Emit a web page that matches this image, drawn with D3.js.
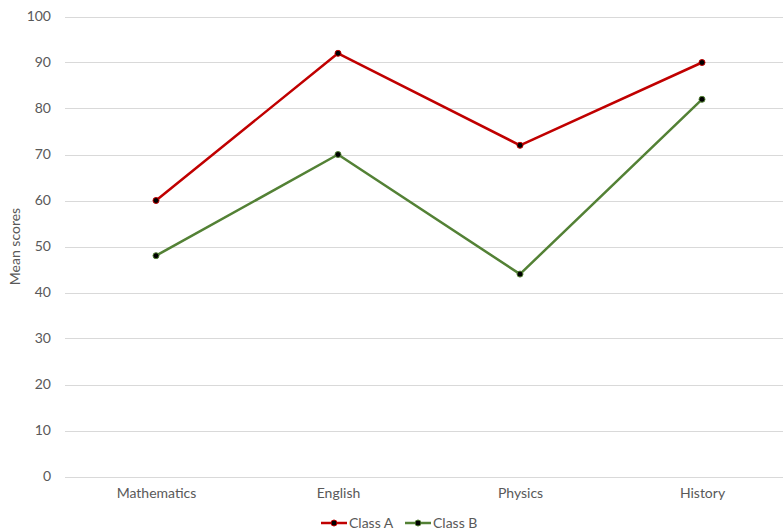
<!DOCTYPE html>
<html>
<head>
<meta charset="utf-8">
<script src="https://cdn.jsdelivr.net/npm/d3@7"></script>
<style>
  html, body { margin: 0; padding: 0; background: #fff; }
  svg { display: block; }
  text { font-family: Lato, "Open Sans", sans-serif; fill: #595959; }
</style>
</head>
<body>
<svg id="chart" width="783" height="532"></svg>
<script>
// Mean scores per subject for two classes
const subjects = ["Mathematics", "English", "Physics", "History"];
const classA = [60, 92, 72, 90];
const classB = [48, 70, 44, 82];
const yTicks = [0, 10, 20, 30, 40, 50, 60, 70, 80, 90, 100];
const seriesNames = ["Class A", "Class B"];
const seriesColors = ["#C00000", "#538135"];

const svg = d3.select("#chart");
const plotLeft = 65, plotRight = 793, plotTop = 16.5, plotBottom = 476.5;
const fontSize = 14;

const x = d3.scalePoint().domain(subjects).range([plotLeft, plotRight]).padding(0.5);
const y = d3.scaleLinear().domain([0, 100]).range([plotBottom, plotTop]);

// horizontal gridlines
svg.append("g").selectAll("line").data(yTicks).join("line")
  .attr("x1", plotLeft).attr("x2", plotRight)
  .attr("y1", d => Math.round(y(d)) + 0.5).attr("y2", d => Math.round(y(d)) + 0.5)
  .attr("stroke", "#d9d9d9").attr("stroke-width", 1);

// y axis labels
const yAxis = d3.axisLeft(y).tickValues(yTicks).tickSize(0).tickPadding(0);
const gy = svg.append("g").attr("transform", `translate(${plotLeft - 14},0)`).call(yAxis);
gy.select(".domain").remove();
gy.selectAll("text").attr("font-size", fontSize).attr("fill", "#595959")
  .style("font-family", "Lato, 'Open Sans', sans-serif");

// x axis labels
const xAxis = d3.axisBottom(x).tickSize(0).tickPadding(0);
const gx = svg.append("g").attr("transform", `translate(0,${plotBottom + 12})`).call(xAxis);
gx.select(".domain").remove();
gx.selectAll("text").attr("font-size", fontSize).attr("fill", "#595959")
  .style("font-family", "Lato, 'Open Sans', sans-serif");

// y axis title
svg.append("text")
  .attr("transform", `translate(20,${(plotTop + plotBottom) / 2}) rotate(-90)`)
  .attr("text-anchor", "middle")
  .attr("font-size", fontSize)
  .text("Mean scores");

// series lines and markers
const series = [classA, classB];
const line = d3.line().x((d, i) => x(subjects[i])).y(d => y(d));
series.forEach((vals, s) => {
  svg.append("path").datum(vals)
    .attr("d", line)
    .attr("fill", "none")
    .attr("stroke", seriesColors[s])
    .attr("stroke-width", 2.5)
    .attr("stroke-linejoin", "round");
  svg.append("g").selectAll("circle").data(vals).join("circle")
    .attr("cx", (d, i) => x(subjects[i]))
    .attr("cy", d => y(d))
    .attr("r", 3)
    .attr("fill", "#000")
    .attr("stroke", seriesColors[s])
    .attr("stroke-width", 1);
});

// legend
const legendY = 523;
const legendX = [321, 405];
seriesNames.forEach((name, s) => {
  const g = svg.append("g").attr("transform", `translate(${legendX[s]},${legendY})`);
  g.append("line").attr("x1", 0).attr("x2", 26).attr("y1", 0).attr("y2", 0)
    .attr("stroke", seriesColors[s]).attr("stroke-width", 2.5);
  g.append("circle").attr("cx", 13).attr("cy", 0).attr("r", 3)
    .attr("fill", "#000").attr("stroke", seriesColors[s]).attr("stroke-width", 1);
  g.append("text").attr("x", 28).attr("y", 0).attr("dy", "0.35em")
    .attr("font-size", fontSize).text(name);
});
</script>
</body>
</html>
